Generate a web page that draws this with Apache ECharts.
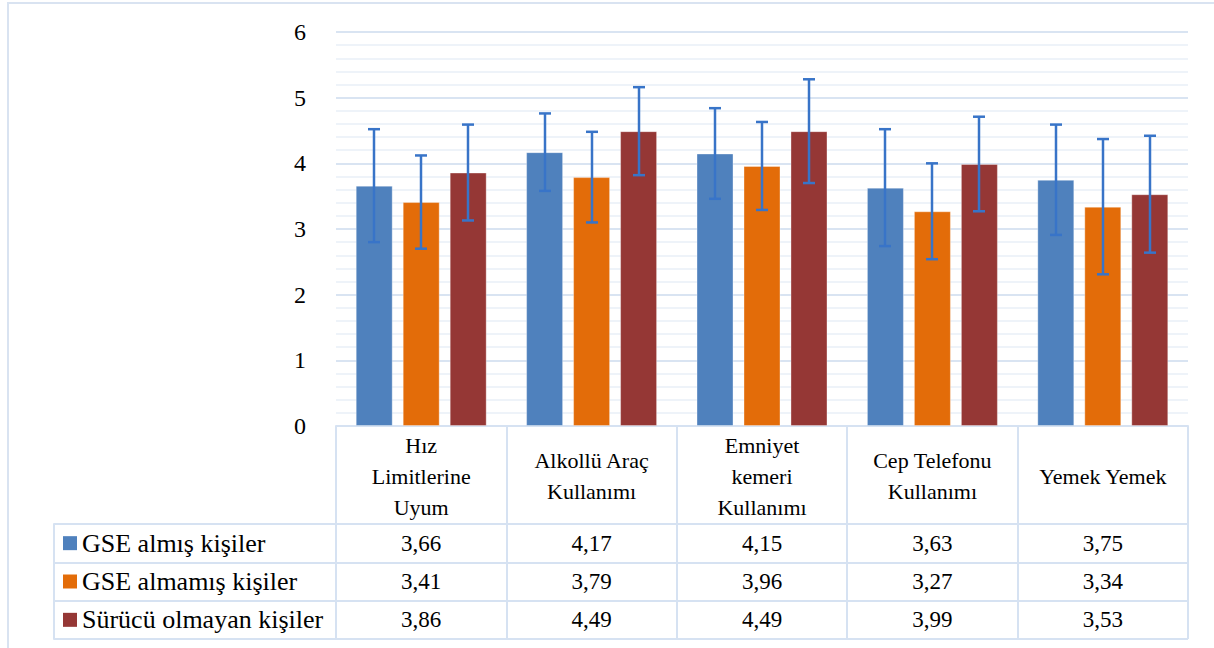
<!DOCTYPE html>
<html>
<head>
<meta charset="utf-8">
<script src="https://cdn.jsdelivr.net/npm/echarts@6/dist/echarts.min.js"></script>
<style>
  html, body { margin: 0; padding: 0; background: #fff; }
  #chart { width: 1214px; height: 648px; }
</style>
</head>
<body>
<div id="chart"></div>
<script>
const categories = ['Hız\nLimitlerine\nUyum', 'Alkollü Araç\nKullanımı', 'Emniyet\nkemeri\nKullanımı', 'Cep Telefonu\nKullanımı', 'Yemek Yemek'];
const seriesNames = ['GSE almış kişiler', 'GSE almamış kişiler', 'Sürücü olmayan kişiler'];
const gseAlmis = [3.66, 4.17, 4.15, 3.63, 3.75];
const gseAlmamis = [3.41, 3.79, 3.96, 3.27, 3.34];
const suruculOlmayan = [3.86, 4.49, 4.49, 3.99, 3.53];
// standard deviations (error bar half-lengths)
const sdAlmis = [0.86, 0.59, 0.69, 0.89, 0.84];
const sdAlmamis = [0.71, 0.69, 0.67, 0.73, 1.03];
const sdOlmayan = [0.73, 0.67, 0.79, 0.72, 0.89];
const yTicks = [0, 1, 2, 3, 4, 5, 6];

const colors = ['#4F81BD', '#E36C09', '#953735'];
const values = [gseAlmis, gseAlmamis, suruculOlmayan];
const sds = [sdAlmis, sdAlmamis, sdOlmayan];
const FONT = 'Liberation Serif, serif';
const BORDER = '#D6E2F2';
const BAR_W = 37, BAR_GAP = 10;

const fmt = v => v.toFixed(2).replace('.', ',');

const myChart = echarts.init(document.getElementById('chart'), null, { renderer: 'svg' });

const barSeries = values.map((vals, i) => ({
  name: seriesNames[i],
  type: 'bar',
  xAxisIndex: 0,
  yAxisIndex: 0,
  barWidth: BAR_W,
  barGap: (BAR_GAP / BAR_W * 100).toFixed(1) + '%',
  itemStyle: { color: colors[i], borderColor: 'rgba(255,255,255,0.35)', borderWidth: 1 },
  data: vals,
  z: 2
}));

const errorSeries = values.map((vals, i) => ({
  type: 'custom',
  xAxisIndex: 0,
  yAxisIndex: 0,
  z: 5,
  data: vals.map((v, k) => [k, v - sds[i][k], v + sds[i][k]]),
  renderItem: (params, api) => {
    const off = (i - 1) * (BAR_W + BAR_GAP);
    const lo = api.coord([api.value(0), api.value(1)]);
    const hi = api.coord([api.value(0), api.value(2)]);
    const x = Math.round(lo[0] + off);
    const cap = 6;
    const st = { stroke: '#3874C8', lineWidth: 2.5 };
    return {
      type: 'group',
      children: [
        { type: 'line', shape: { x1: x, y1: hi[1], x2: x, y2: lo[1] }, style: st },
        { type: 'line', shape: { x1: x - cap, y1: hi[1], x2: x + cap, y2: hi[1] }, style: st },
        { type: 'line', shape: { x1: x - cap, y1: lo[1], x2: x + cap, y2: lo[1] }, style: st }
      ]
    };
  }
}));

const tableData = [];
values.forEach((vals, r) => vals.forEach((v, c) => tableData.push([c, r, v])));

const option = {
  animation: false,
  textStyle: { fontFamily: FONT },
  graphic: [{
    type: 'rect',
    shape: { x: 8, y: 3, width: 1400, height: 800 },
    style: { fill: 'none', stroke: '#D9E3F1', lineWidth: 2 },
    silent: true
  }],
  grid: [
    { left: 336, right: 26, top: 32, bottom: 222 },
    { left: 336, right: 26, top: 524, bottom: 9 }
  ],
  xAxis: [
    {
      gridIndex: 0,
      type: 'category',
      data: categories,
      axisLine: { lineStyle: { color: BORDER, width: 2 } },
      axisTick: { show: true, length: 98, lineStyle: { color: BORDER, width: 2 } },
      axisLabel: {
        interval: 0,
        margin: 50,
        verticalAlign: 'middle',
        color: '#000',
        fontFamily: FONT,
        fontSize: 22,
        lineHeight: 31
      }
    },
    {
      gridIndex: 1,
      type: 'category',
      position: 'top',
      data: categories,
      axisLine: { lineStyle: { color: BORDER, width: 2 } },
      axisTick: { show: false },
      axisLabel: { show: false },
      splitLine: { show: true, lineStyle: { color: BORDER, width: 2 } }
    }
  ],
  yAxis: [
    {
      gridIndex: 0,
      type: 'value',
      min: yTicks[0],
      max: yTicks[yTicks.length - 1],
      interval: 1,
      axisLine: { show: false },
      axisTick: { show: false },
      axisLabel: { margin: 30, color: '#000', fontFamily: FONT, fontSize: 24 },
      splitLine: { lineStyle: { color: '#D9E4F2', width: 2 } },
      minorTick: { show: false, splitNumber: 5 },
      minorSplitLine: { show: true, lineStyle: { color: '#EEF3F9', width: 2 } }
    },
    {
      gridIndex: 1,
      type: 'category',
      inverse: true,
      data: seriesNames,
      axisLine: { lineStyle: { color: BORDER, width: 2 } },
      axisTick: { show: true, length: 282, lineStyle: { color: BORDER, width: 2 } },
      splitLine: { show: true, lineStyle: { color: BORDER, width: 2 } },
      axisLabel: {
        margin: 273,
        align: 'left',
        formatter: (v, i) => '{k' + i + '|}{t|' + v + '}',
        rich: {
          k0: { width: 14, height: 14, backgroundColor: colors[0] },
          k1: { width: 14, height: 14, backgroundColor: colors[1] },
          k2: { width: 14, height: 14, backgroundColor: colors[2] },
          t: { color: '#000', fontFamily: FONT, fontSize: 26, padding: [0, 0, 0, 5] }
        }
      }
    },
    {
      gridIndex: 1,
      type: 'category',
      inverse: true,
      data: seriesNames,
      position: 'left',
      offset: 282,
      axisLine: { lineStyle: { color: BORDER, width: 2 } },
      axisTick: { show: false },
      axisLabel: { show: false }
    }
  ],
  series: [
    ...barSeries,
    ...errorSeries,
    {
      type: 'custom',
      xAxisIndex: 1,
      yAxisIndex: 1,
      data: tableData,
      renderItem: (params, api) => {
        const p = api.coord([api.value(0), api.value(1)]);
        return {
          type: 'text',
          x: p[0],
          y: p[1],
          style: {
            text: fmt(api.value(2)),
            align: 'center',
            verticalAlign: 'middle',
            fill: '#000',
            fontSize: 23,
            fontFamily: FONT
          }
        };
      }
    }
  ]
};

myChart.setOption(option);
</script>
</body>
</html>
